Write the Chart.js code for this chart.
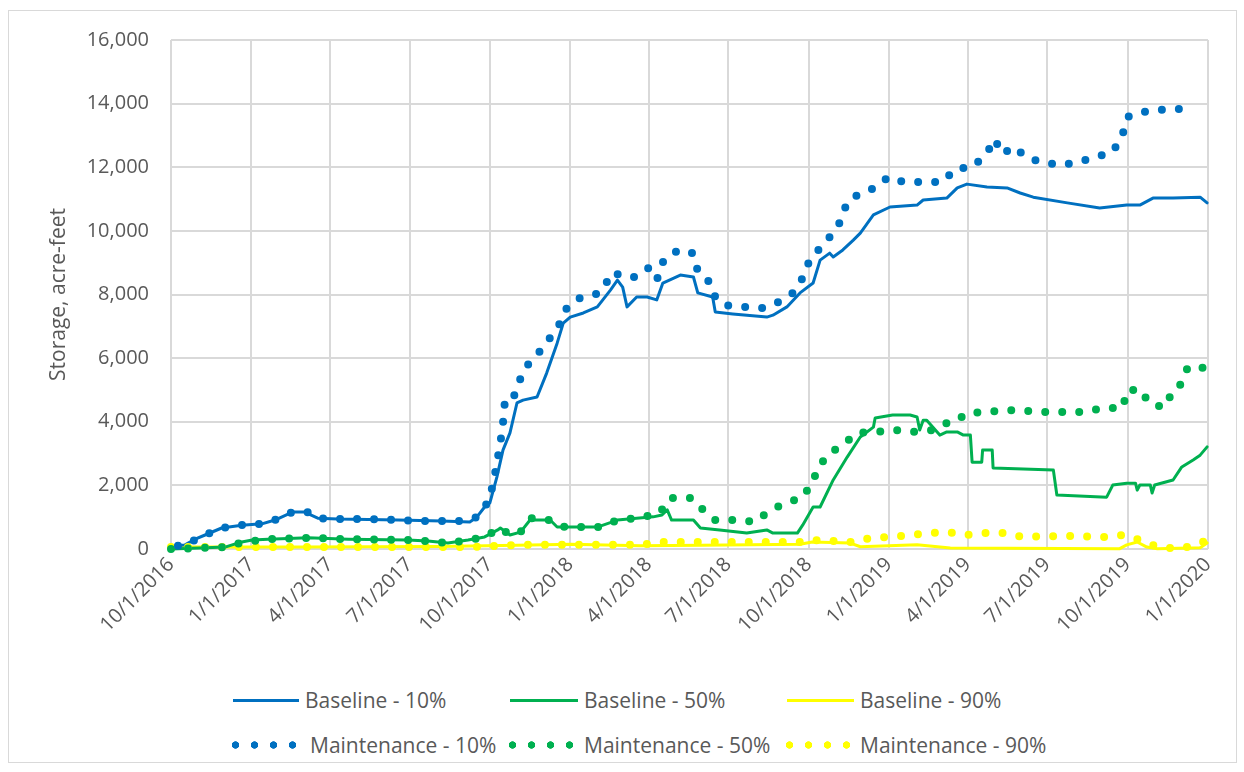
<!DOCTYPE html>
<html>
<head>
<meta charset="utf-8">
<script src="https://cdn.jsdelivr.net/npm/chart.js@4.4.0/dist/chart.umd.min.js"></script>
<style>
  body { margin: 0; background: #fff; font-family: "Open Sans", sans-serif; }
  #frame { position: absolute; left: 8px; top: 10px; width: 1227px; height: 751px; border: 1px solid #d9d9d9; }
  #chart { position: absolute; left: 0; top: 0; }
  .legend { position: absolute; font-size: 21px; color: #595959; white-space: nowrap; }
  .legend .item { position: absolute; display: flex; align-items: center; }
  .legend .sample { height: 8px; margin-right: 6px; }
</style>
</head>
<body>
<div id="frame"></div>
<canvas id="chart" width="1244" height="680"></canvas>
<div class="legend" id="legend"></div>
<script>
// quarter ticks on the time axis
const tickLabels = ['10/1/2016', '1/1/2017', '4/1/2017', '7/1/2017', '10/1/2017', '1/1/2018', '4/1/2018',
  '7/1/2018', '10/1/2018', '1/1/2019', '4/1/2019', '7/1/2019', '10/1/2019', '1/1/2020'];

// [days since 10/1/2016, storage in acre-feet]
const baseline10 = [[0,80],[8,100],[16,130],[27,300],[39,440],[58,660],[81,750],[104,790],[119,910],[139,1160],[153,1160],[168,970],[191,940],[260,910],[310,880],[342,850],[350,1000],[359,1320],[365,1450],[373,2260],[380,3110],[388,3650],[396,4590],[403,4680],[419,4780],[430,5530],[442,6470],[449,7100],[457,7290],[472,7420],[488,7610],[503,8140],[511,8450],[517,8230],[522,7610],[533,7920],[545,7920],[556,7830],[563,8360],[583,8610],[598,8550],[603,8050],[620,7920],[623,7450],[643,7390],[682,7290],[689,7350],[705,7610],[720,8050],[735,8360],[743,9080],[754,9300],[758,9180],[769,9400],[781,9710],[789,9930],[804,10500],[823,10750],[854,10810],[861,10970],[888,11030],[900,11350],[911,11470],[934,11380],[957,11350],[972,11190],[987,11060],[1026,10880],[1063,10720],[1094,10810],[1109,10810],[1124,11030],[1147,11030],[1178,11060],[1186,10880]];
const baseline50 = [[0,0],[33,30],[62,60],[70,130],[81,220],[93,280],[111,310],[157,350],[203,310],[271,280],[294,250],[317,190],[340,280],[359,380],[374,600],[377,660],[388,440],[400,530],[411,910],[434,910],[442,690],[488,690],[511,910],[533,970],[552,1010],[562,1070],[568,1230],[573,910],[598,910],[606,660],[628,600],[659,500],[682,600],[689,500],[717,500],[723,750],[735,1320],[743,1320],[758,2170],[774,2890],[789,3520],[804,3830],[806,4120],[826,4210],[846,4210],[854,4150],[857,3740],[861,4050],[865,4050],[880,3580],[888,3680],[900,3680],[907,3580],[915,3580],[917,2730],[928,2730],[929,3110],[940,3110],[941,2550],[1010,2480],[1014,1700],[1071,1630],[1078,2010],[1094,2070],[1104,2070],[1106,1850],[1109,2010],[1121,2010],[1123,1760],[1126,2010],[1147,2170],[1157,2580],[1170,2800],[1178,2950],[1186,3210]];
const baseline90 = [[0,60],[148,60],[308,80],[396,120],[458,150],[537,100],[606,120],[720,150],[734,220],[777,190],[789,70],[854,130],[892,30],[1086,10],[1094,130],[1106,220],[1117,60],[1129,10],[1178,40],[1186,190]];
const maint10 = [[8,100],[16,130],[39,440],[58,660],[81,750],[104,790],[119,910],[139,1160],[156,1160],[168,970],[191,940],[225,940],[260,910],[287,880],[310,880],[333,880],[350,1000],[363,1480],[369,2070],[373,2700],[377,3330],[380,3960],[382,4590],[390,4590],[396,5090],[405,5690],[419,6100],[432,6570],[443,6980],[453,7570],[468,7890],[491,8050],[506,8710],[517,8550],[531,8550],[546,8830],[556,8450],[563,9020],[575,9340],[596,9340],[600,8860],[614,8520],[619,8050],[632,7670],[655,7610],[678,7570],[695,7760],[712,8050],[723,8520],[731,9080],[743,9460],[754,9810],[766,10280],[774,10910],[789,11190],[806,11350],[821,11690],[838,11540],[884,11540],[897,11940],[918,12010],[934,12450],[943,12890],[951,12420],[966,12640],[978,12320],[997,12160],[1018,12070],[1038,12160],[1058,12320],[1078,12480],[1089,13010],[1095,13580],[1113,13740],[1130,13800],[1149,13830],[1170,13830]];
const maint50 = [[0,0],[62,60],[70,130],[85,220],[111,310],[157,350],[203,310],[271,280],[294,250],[317,190],[340,280],[359,380],[377,660],[388,440],[400,530],[413,970],[434,910],[451,690],[491,690],[511,910],[533,970],[551,1070],[560,1130],[568,1540],[573,1600],[596,1600],[609,1230],[623,910],[646,910],[669,850],[683,1160],[703,1450],[722,1600],[734,2070],[741,2580],[754,3020],[769,3270],[785,3650],[806,3680],[829,3740],[849,3680],[872,3740],[888,3960],[897,3990],[911,4270],[934,4310],[957,4370],[1000,4310],[1046,4310],[1067,4430],[1089,4430],[1095,5000],[1111,5000],[1117,4680],[1123,4530],[1138,4460],[1147,5000],[1155,5150],[1164,5720],[1184,5690]];
const maint90 = [[0,60],[148,60],[342,60],[396,130],[537,130],[560,220],[720,220],[734,280],[780,220],[802,350],[825,380],[848,440],[866,500],[889,530],[909,440],[932,500],[955,500],[975,380],[1023,410],[1069,380],[1090,440],[1109,280],[1123,130],[1140,30],[1163,60],[1180,220],[1186,250]];

const seriesNames = ['Baseline - 10%', 'Baseline - 50%', 'Baseline - 90%',
  'Maintenance - 10%', 'Maintenance - 50%', 'Maintenance - 90%'];
const seriesColors = ['#0070C0', '#00B050', '#FFFF00', '#0070C0', '#00B050', '#FFFF00'];
const seriesData = [baseline10, baseline50, baseline90, maint10, maint50, maint90];

function dayOf(label) {
  const [m, d, y] = label.split('/').map(Number);
  return (Date.UTC(y, m - 1, d) - Date.UTC(2016, 9, 1)) / 86400000;
}
const tickDays = tickLabels.map(dayOf);

const datasets = seriesData.map((pts, i) => {
  const dotted = i >= 3;
  return {
    label: seriesNames[i],
    data: pts.map(p => ({ x: p[0], y: p[1] })),
    borderColor: seriesColors[i],
    backgroundColor: seriesColors[i],
    borderWidth: dotted ? 8 : 3,
    borderDash: dotted ? [0, 17] : [],
    borderCapStyle: 'round',
    borderJoinStyle: 'round',
    pointRadius: 0,
    tension: 0,
    clip: dotted ? false : 4,
    order: dotted ? 1 : 2
  };
});

const font = { family: '"Open Sans", sans-serif', size: 20 };
const textColor = '#595959';
const gridColor = '#d9d9d9';

new Chart(document.getElementById('chart'), {
  type: 'line',
  data: { datasets: datasets },
  options: {
    responsive: false,
    animation: false,
    layout: { padding: { top: 40, right: 36, bottom: 0, left: 0 } },
    plugins: { legend: { display: false }, tooltip: { enabled: false } },
    scales: {
      x: {
        type: 'linear',
        min: 0,
        max: tickDays[tickDays.length - 1],
        afterBuildTicks: s => { s.ticks = tickDays.map(v => ({ value: v })); },
        afterFit: s => { s.height = 131; },
        ticks: {
          autoSkip: false,
          minRotation: 45,
          maxRotation: 45,
          padding: 4,
          color: textColor,
          font: font,
          callback: (v, i) => tickLabels[i]
        },
        grid: { color: gridColor, lineWidth: 2, drawTicks: false },
        border: { display: false }
      },
      y: {
        min: 0,
        max: 16000,
        afterFit: s => { s.width = 171; },
        ticks: {
          stepSize: 2000,
          padding: 22,
          color: textColor,
          font: font,
          callback: v => v.toLocaleString('en-US')
        },
        title: {
          display: true,
          text: 'Storage, acre-feet',
          color: textColor,
          font: { family: font.family, size: 21 },
          padding: { top: 46, bottom: 0 }
        },
        grid: { color: gridColor, lineWidth: 2, drawTicks: false },
        border: { display: false }
      }
    }
  }
});

// legend laid out like the original: two rows of three
const legendPos = [[233, 700], [510, 700], [787, 700], [226, 745], [503, 745], [780, 745]];
const legendTextX = [305, 584, 860, 310, 584, 860];
const legend = document.getElementById('legend');
seriesNames.forEach((name, i) => {
  const item = document.createElement('div');
  item.className = 'item';
  item.style.left = legendPos[i][0] + 'px';
  item.style.top = (legendPos[i][1] - 15) + 'px';
  item.style.height = '30px';
  const sample = document.createElement('span');
  sample.className = 'sample';
  if (i < 3) {
    sample.style.background = 'linear-gradient(' + seriesColors[i] + ',' + seriesColors[i] + ') center/100% 3px no-repeat';
    sample.style.width = (legendTextX[i] - legendPos[i][0] - 6) + 'px';
  } else {
    sample.style.background = 'radial-gradient(circle, ' + seriesColors[i] + ' 3.4px, transparent 4px) 0 0/19px 8px repeat-x';
    sample.style.width = '76px';
    sample.style.marginRight = (legendTextX[i] - legendPos[i][0] - 76) + 'px';
  }
  const text = document.createElement('span');
  text.textContent = name;
  item.appendChild(sample);
  item.appendChild(text);
  legend.appendChild(item);
});
</script>
</body>
</html>
